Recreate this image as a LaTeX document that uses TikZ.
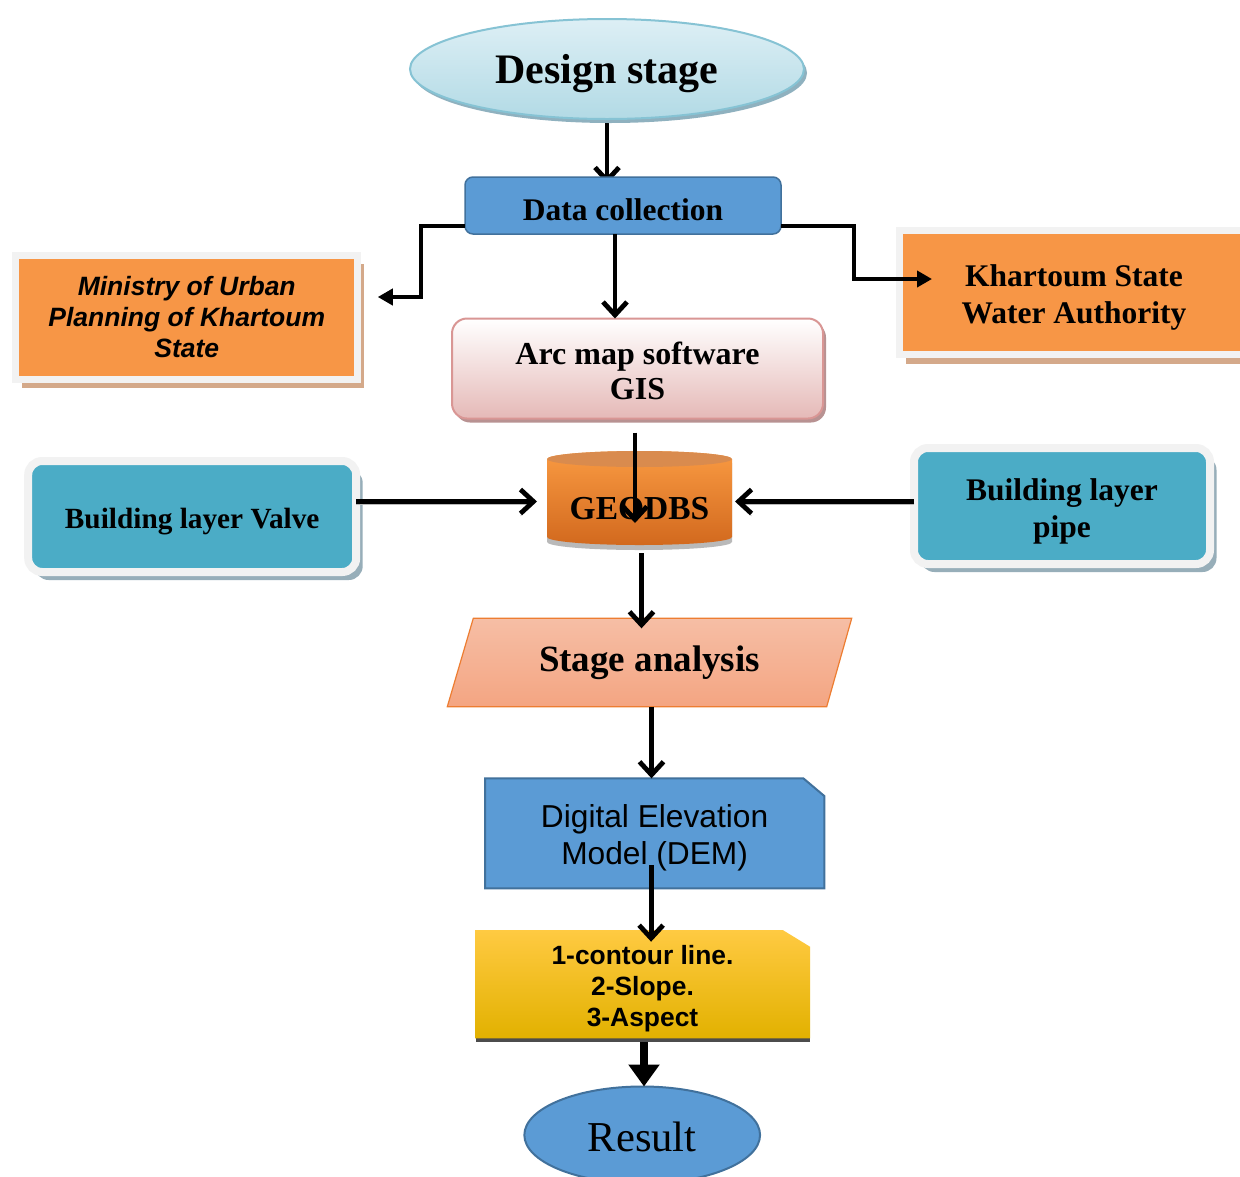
\documentclass[tikz,border=0pt]{standalone}
\usepackage{fontspec}
\setmainfont{Liberation Serif}
\setsansfont{Liberation Sans}
\usetikzlibrary{arrows.meta,shapes.geometric,shadows,calc,backgrounds}
\definecolor{dcblue}{HTML}{5B9BD5}
\definecolor{dcborder}{HTML}{41719C}
\definecolor{orng}{HTML}{F79646}
\definecolor{framegray}{HTML}{F2F2F2}
\definecolor{tanshadow}{HTML}{D4A98A}
\definecolor{tealbox}{HTML}{4BACC6}
\definecolor{tealshadow}{HTML}{97AEB9}
\definecolor{ellTop}{HTML}{DDEFF5}
\definecolor{ellBot}{HTML}{B2DAE5}
\definecolor{ellBorder}{HTML}{86C3D4}
\definecolor{ellShadow}{HTML}{8FB1BF}
\definecolor{pinkBot}{HTML}{E5B9B7}
\definecolor{pinkBorder}{HTML}{D99694}
\definecolor{pinkShadow}{HTML}{B89292}
\definecolor{salTop}{HTML}{F6BEA5}
\definecolor{salBot}{HTML}{F4A582}
\definecolor{salBorder}{HTML}{ED7D31}
\definecolor{cylTop}{HTML}{F99A42}
\definecolor{cylBot}{HTML}{D2691E}
\definecolor{cylCap}{HTML}{D98B4E}
\definecolor{yelTop}{HTML}{FFCA42}
\definecolor{yelMid}{HTML}{FFC000}
\definecolor{yelBot}{HTML}{E2B100}
\newcommand{\lift}[1]{\rule{0pt}{#1pt}}
\tikzset{
  every node/.style={inner sep=0pt, outer sep=0pt},
  conn/.style={line width=4.8pt, -{Straight Barb[length=13pt,width=24pt]}},
  tri/.style={line width=4pt, -{Triangle[length=15pt,width=16pt]}},
  bigarrow/.style={line width=8pt, -{Triangle[length=22pt,width=30pt]}},
  shadowline/.style={preaction={draw=gray!55, transform canvas={yshift=-2.5pt}}},
  framebox/.style={rectangle, draw=framegray, line width=7pt, fill=orng,
    drop shadow={shadow xshift=6.5pt, shadow yshift=-9pt, fill=tanshadow, opacity=1}},
  tealframe/.style={rectangle, rounded corners=14pt, draw=framegray, line width=8pt, fill=tealbox,
    drop shadow={shadow xshift=6.5pt, shadow yshift=-8pt, fill=tealshadow, opacity=1}},
}
\begin{document}
\begin{tikzpicture}[x=1pt,y=-1pt]
\useasboundingbox (0,0) rectangle (1240,1176);

% Design stage
\node[ellipse, minimum width=394pt, minimum height=100pt, top color=ellTop, bottom color=ellBot,
  draw=ellBorder, line width=2pt,
  drop shadow={shadow xshift=3pt, shadow yshift=-4pt, fill=ellShadow, opacity=1},
  font=\bfseries\fontsize{42}{48}\selectfont] (design) at (607,69) {\lift{39}Design stage};

% Data collection
\node[rectangle, rounded corners=8pt, minimum width=316pt, minimum height=57pt,
  fill=dcblue, draw=dcborder, line width=1.5pt,
  font=\bfseries\fontsize{31.5}{36}\selectfont] (datacol) at (623,205.5) {\lift{29.7}Data collection};

% Ministry
\node[framebox, minimum width=342pt, minimum height=124pt, align=center,
  font=\sffamily\bfseries\itshape\fontsize{26.5}{31}\selectfont] (ministry) at (186.75,317)
  {Ministry of Urban\\Planning of Khartoum\\State};

% Khartoum
\node[framebox, minimum width=349pt, minimum height=124pt, align=center,
  font=\bfseries\fontsize{31.5}{37}\selectfont] (khartoum) at (1074,292.5)
  {\lift{32.5}Khartoum State\\Water Authority};

% Arc map
\node[rectangle, rounded corners=15pt, minimum width=371pt, minimum height=100pt,
  top color=white, bottom color=pinkBot, draw=pinkBorder, line width=2pt,
  drop shadow={shadow xshift=3pt, shadow yshift=-4pt, fill=pinkShadow, opacity=1},
  align=center, font=\bfseries\fontsize{32}{35}\selectfont] (arcmap) at (637.5,368.5)
  {\lift{28}Arc map software\\GIS};

% GEODBS cylinder
\fill[gray!55] (547,463) -- (547,542) arc[start angle=180,end angle=360,x radius=92.5pt,y radius=8pt]
  -- (732,463) arc[start angle=0,end angle=180,x radius=92.5pt,y radius=8pt] -- cycle;
\shade[top color=cylTop, bottom color=cylBot] (547,459) -- (547,537)
  arc[start angle=180,end angle=360,x radius=92.5pt,y radius=8pt]
  -- (732,459) arc[start angle=0,end angle=180,x radius=92.5pt,y radius=8pt] -- cycle;
\fill[cylCap] (639.5,459) ellipse[x radius=92.5pt, y radius=8pt];
\node[minimum width=185pt, minimum height=78pt, font=\bfseries\fontsize{33.5}{36}\selectfont]
  (geodbs) at (639.5,506) {\lift{26.5}GEODBS};

% Valve
\node[tealframe, minimum width=328pt, minimum height=111pt,
  font=\bfseries\fontsize{29.3}{34}\selectfont] (valve) at (192.2,516.5) {\lift{30}Building layer Valve};

% Pipe
\node[tealframe, minimum width=296pt, minimum height=116pt, align=center,
  font=\bfseries\fontsize{31.5}{37}\selectfont] (pipe) at (1062,506) {\lift{31.7}Building layer\\pipe};

% Stage analysis
\shade[top color=salTop, bottom color=salBot] (473.3,618.3) -- (851.7,618.3) -- (826.7,706.7) -- (447.3,706.7) -- cycle;
\draw[salBorder, line width=1.2pt] (473.3,618.3) -- (851.7,618.3) -- (826.7,706.7) -- (447.3,706.7) -- cycle;
\node[minimum width=378pt, minimum height=88.4pt, font=\bfseries\fontsize{37}{40}\selectfont]
  (stage) at (649.5,662.5) {Stage analysis};

% DEM
\draw[fill=dcblue, draw=dcborder, line width=2pt] (485,778.3) -- (803.3,778.3) -- (824.3,796) -- (824.3,888.3) -- (485,888.3) -- cycle;
\node[minimum width=339pt, minimum height=110pt, align=center,
  font=\sffamily\fontsize{31.7}{36.6}\selectfont] (dem) at (654.6,833.3)
  {\lift{32}Digital Elevation\\Model (DEM)};

% Yellow box
\fill[gray!60!black] (476,1037) rectangle (810,1042);
\shade[top color=yelTop, middle color=yelMid, bottom color=yelBot] (475,930) -- (782.7,930) -- (810,946.7) -- (810,1038.3) -- (475,1038.3) -- cycle;
\node[minimum width=335pt, minimum height=108pt, align=center,
  font=\sffamily\bfseries\fontsize{26.4}{31}\selectfont] (steps) at (642.5,984)
  {\lift{29}1-contour line.\\2-Slope.\\3-Aspect};

% Result
\node[ellipse, minimum width=235.7pt, minimum height=97pt, fill=dcblue, draw=dcborder, line width=2pt,
  font=\fontsize{42.6}{46}\selectfont] (result) at (642.2,1135) {\lift{33}Result};

% Connectors
\begin{pgfonlayer}{background}
\fill[white] (0,0) rectangle (1240,1176);
\draw[conn, shorten >=-7pt] (design.south) -- (design.south |- datacol.north);
\end{pgfonlayer}
\draw[tri] ([yshift=-20.5pt]datacol.west) -- ++(-44,0) |- ([xshift=20pt,yshift=20pt]ministry.east);
\draw[tri] ([yshift=-20.5pt]datacol.east) -- ++(73,0) |- ([xshift=32.5pt,yshift=13.5pt]khartoum.west);
\coordinate (d1) at ([xshift=-8pt]datacol.south);
\draw[conn] (d1) -- (d1 |- arcmap.north);
\coordinate (a1) at ([xshift=-2.5pt,yshift=-14pt]arcmap.south);
\coordinate (g1) at ([yshift=-17pt]geodbs.center);
\draw[conn] (a1) -- (a1 |- g1);
\coordinate (v1) at ([yshift=15pt]valve.east);
\draw[conn, shadowline, shorten >=10pt] (v1) -- (v1 -| geodbs.west);
\coordinate (p1) at ([yshift=4.5pt]pipe.west);
\draw[conn, shadowline, shorten >=3pt] (p1) -- (p1 -| geodbs.east);
\coordinate (g2) at ([xshift=2pt,yshift=-8pt]geodbs.south);
\draw[conn, shorten >=-10pt] (g2) -- (g2 |- stage.north);
\coordinate (s1) at ([xshift=2pt]stage.south);
\draw[conn] (s1) -- (s1 |- dem.north);
\coordinate (e1) at ([xshift=-3.5pt,yshift=23pt]dem.south);
\draw[conn, shorten >=-11.7pt] (e1) -- (e1 |- steps.north);
\coordinate (y1) at ([xshift=1.5pt,yshift=-4pt]steps.south);
\draw[bigarrow] (y1) -- (y1 |- result.north);
\end{tikzpicture}
\end{document}
